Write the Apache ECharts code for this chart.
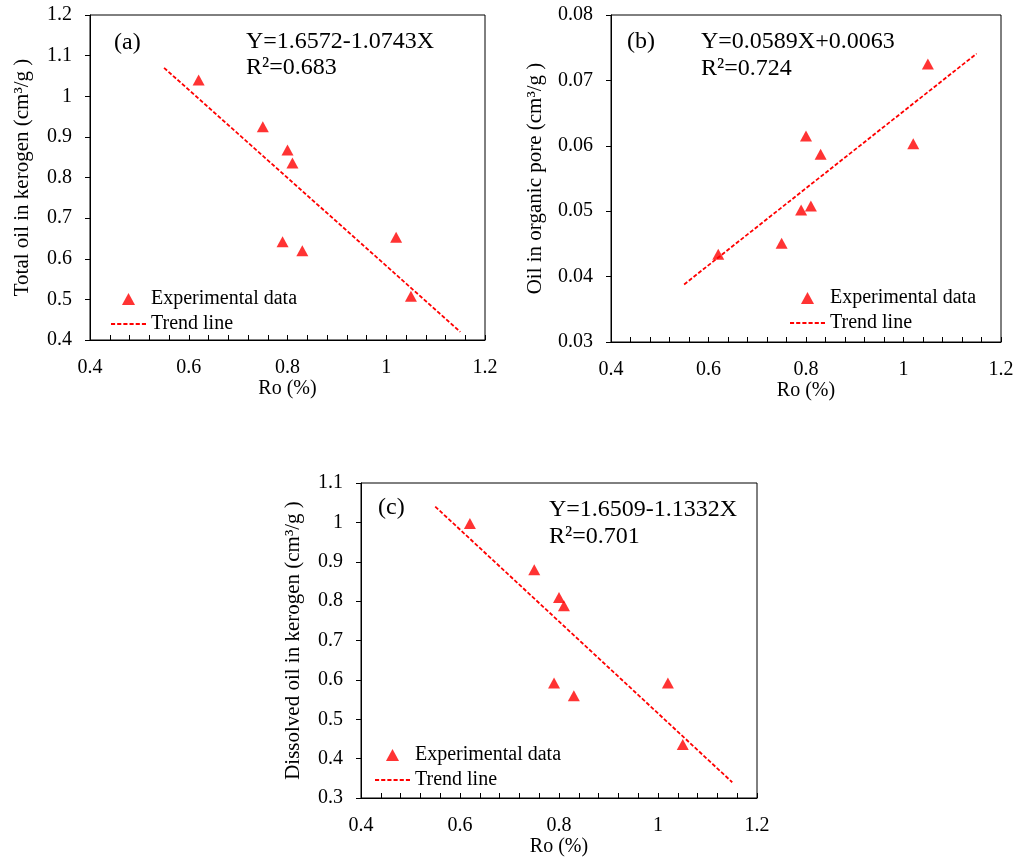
<!DOCTYPE html>
<html>
<head>
<meta charset="utf-8">
<script src="https://cdn.jsdelivr.net/npm/echarts@6/dist/echarts.min.js"></script>
<style>
html,body{margin:0;padding:0;background:#fff;}
#chart{width:1018px;height:859px;}
</style>
</head>
<body>
<div id="chart"></div>
<script>
// Data
const ro = [0.62, 0.75, 0.80, 0.81, 0.79, 0.83, 1.02, 1.05];
const totalOil = [1.040, 0.925, 0.868, 0.836, 0.642, 0.620, 0.653, 0.508];
const organicPoreOil = [0.0434, 0.0451, 0.0615, 0.0508, 0.0502, 0.0587, 0.0603, 0.0725];
const dissolvedOil = [0.997, 0.880, 0.809, 0.788, 0.592, 0.560, 0.592, 0.436];
const trendX = [0.55, 1.15];
const trendA = [1.07, 0.42];
const trendB = [0.0388, 0.0741];
const trendC = [1.04, 0.34];
const panelLabels = ['(a)', '(b)', '(c)'];
const equations = ['Y=1.6572-1.0743X', 'Y=0.0589X+0.0063', 'Y=1.6509-1.1332X'];
const r2Labels = ['R\u00B2=0.683', 'R\u00B2=0.724', 'R\u00B2=0.701'];
const yNames = ['Total oil in kerogen (cm\u00B3/g )', 'Oil in organic pore (cm\u00B3/g )', 'Dissolved oil in kerogen (cm\u00B3/g )'];

const FONT = "'Liberation Serif', 'Times New Roman', serif";
const RED = '#ff0000';

function pairs(xs, ys) { return xs.map((x, i) => [x, ys[i]]); }

const grids = [
  {left: 90, top: 15, width: 395, height: 325},
  {left: 611, top: 15, width: 390, height: 327},
  {left: 361, top: 483, width: 396, height: 315}
];
const yRanges = [
  {min: 0.4, max: 1.2, interval: 0.1, gap: 57},
  {min: 0.03, max: 0.08, interval: 0.01, gap: 65},
  {min: 0.3, max: 1.1, interval: 0.1, gap: 57}
];

const xAxes = grids.map((g, i) => ({
  type: 'value', gridIndex: i, min: 0.4, max: 1.2, interval: 0.2,
  name: 'Ro (%)', nameLocation: 'middle', nameGap: 38,
  nameTextStyle: {fontFamily: FONT, fontSize: 20, color: '#000'},
  axisLine: {show: true, lineStyle: {color: '#000', width: 1}},
  axisTick: {show: true, inside: true, length: 5, lineStyle: {color: '#000'}},
  minorTick: {show: true, splitNumber: 5, length: 5, lineStyle: {color: '#000'}},
  axisLabel: {fontFamily: FONT, fontSize: 20, color: '#000', margin: 18,
    formatter: v => String(+v.toFixed(2))},
  splitLine: {show: false}
}));

const yAxes = grids.map((g, i) => ({
  type: 'value', gridIndex: i, min: yRanges[i].min, max: yRanges[i].max, interval: yRanges[i].interval,
  name: yNames[i], nameLocation: 'middle', nameGap: yRanges[i].gap, nameRotate: 90,
  nameTextStyle: {fontFamily: FONT, fontSize: 21, color: '#000'},
  axisLine: {show: true, lineStyle: {color: '#000', width: 1}},
  axisTick: {show: true, inside: false, length: 5, lineStyle: {color: '#000'}},
  axisLabel: {fontFamily: FONT, fontSize: 20, color: '#000', margin: 18,
    formatter: v => String(+v.toFixed(3))},
  splitLine: {show: false}
}));

const yData = [totalOil, organicPoreOil, dissolvedOil];
const trends = [trendA, trendB, trendC];
const series = [];
for (let i = 0; i < 3; i++) {
  series.push({
    name: 'Experimental data', type: 'scatter', xAxisIndex: i, yAxisIndex: i,
    symbol: 'triangle', symbolSize: [12, 11],
    itemStyle: {color: RED},
    data: pairs(ro, yData[i]), z: 3
  });
  series.push({
    name: 'Trend line', type: 'line', xAxisIndex: i, yAxisIndex: i,
    symbol: 'none', showSymbol: false,
    lineStyle: {color: RED, width: 1.8, type: [4, 2]},
    itemStyle: {color: RED},
    data: pairs(trendX, trends[i]), z: 2
  });
}

const triIcon = 'path://M6,0L12,11L0,11Z';
const dashIcon = 'path://M0,0h4v1.8h-4zM6,0h4v1.8h-4zM12,0h4v1.8h-4zM18,0h4v1.8h-4zM24,0h4v1.8h-4zM30,0h4v1.8h-4z';

const legendPos = [
  {left: 111, top: 289},
  {left: 790, top: 288},
  {left: 375, top: 745}
];
const legends = legendPos.map((p, i) => ({
  left: p.left, top: p.top, orient: 'vertical', padding: 0,
  itemWidth: 35, itemHeight: 12, itemGap: 5, symbolKeepAspect: true,
  textStyle: {fontFamily: FONT, fontSize: 20, color: '#000', lineHeight: 20},
  selectedMode: false,
  data: [
    {name: 'Experimental data', icon: triIcon, itemStyle: {color: RED, borderWidth: 0}},
    {name: 'Trend line', icon: dashIcon, itemStyle: {color: RED, borderWidth: 0}}
  ]
}));

const annoPos = [
  {lx: 114, ly: 43, ex: 246, ey: 42, ry: 68},
  {lx: 627, ly: 42, ex: 701, ey: 42, ry: 69},
  {lx: 378, ly: 508, ex: 549, ey: 510, ry: 537}
];
const graphics = [];
annoPos.forEach((p, i) => {
  graphics.push({type: 'text', left: p.lx, top: p.ly - 12,
    style: {text: panelLabels[i], font: '24px ' + FONT, fill: '#000'}});
  graphics.push({type: 'text', left: p.ex, top: p.ey - 12,
    style: {text: equations[i], font: '24px ' + FONT, fill: '#000'}});
  graphics.push({type: 'text', left: p.ex, top: p.ry - 12,
    style: {text: r2Labels[i], font: '24px ' + FONT, fill: '#000'}});
});

const chart = echarts.init(document.getElementById('chart'), null, {renderer: 'canvas'});
chart.setOption({
  backgroundColor: '#fff',
  animation: false,
  grid: grids.map(g => Object.assign({show: true, borderColor: '#000', borderWidth: 1, backgroundColor: 'transparent'}, g)),
  xAxis: xAxes,
  yAxis: yAxes,
  legend: legends,
  series: series,
  graphic: graphics
});
</script>
</body>
</html>
